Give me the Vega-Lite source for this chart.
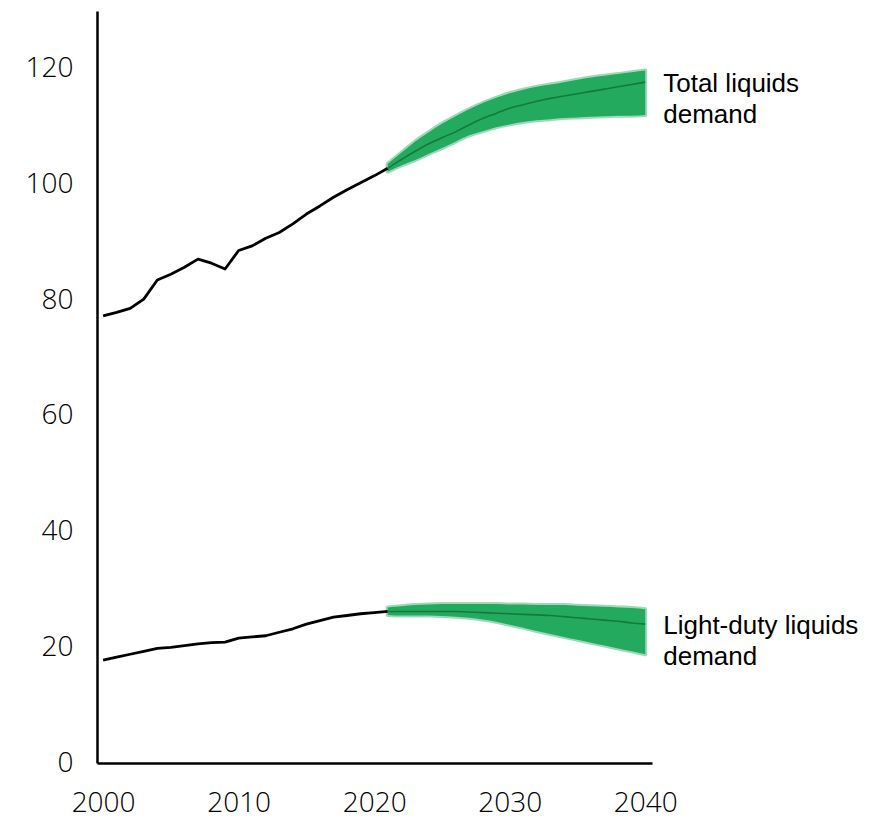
{
  "$schema": "https://vega.github.io/schema/vega-lite/v6.json",
  "width": 555,
  "height": 752,
  "autosize": {"type": "none"},
  "padding": {"left": 97, "top": 11, "right": 223, "bottom": 56},
  "background": "white",
  "config": {"view": {"stroke": null}},
  "datasets": {
    "hist": [
      {"year": 2000, "series": "Total", "value": 77.3},
      {"year": 2001, "series": "Total", "value": 77.9},
      {"year": 2002, "series": "Total", "value": 78.6},
      {"year": 2003, "series": "Total", "value": 80.2},
      {"year": 2004, "series": "Total", "value": 83.5},
      {"year": 2005, "series": "Total", "value": 84.5},
      {"year": 2006, "series": "Total", "value": 85.7},
      {"year": 2007, "series": "Total", "value": 87.1},
      {"year": 2008, "series": "Total", "value": 86.4},
      {"year": 2009, "series": "Total", "value": 85.4},
      {"year": 2010, "series": "Total", "value": 88.6},
      {"year": 2011, "series": "Total", "value": 89.4},
      {"year": 2012, "series": "Total", "value": 90.7},
      {"year": 2013, "series": "Total", "value": 91.7},
      {"year": 2014, "series": "Total", "value": 93.2},
      {"year": 2015, "series": "Total", "value": 94.9},
      {"year": 2016, "series": "Total", "value": 96.3},
      {"year": 2017, "series": "Total", "value": 97.8},
      {"year": 2018, "series": "Total", "value": 99.1},
      {"year": 2019, "series": "Total", "value": 100.3},
      {"year": 2020, "series": "Total", "value": 101.5},
      {"year": 2021, "series": "Total", "value": 102.8},
      {"year": 2000, "series": "Light", "value": 17.8},
      {"year": 2001, "series": "Light", "value": 18.3},
      {"year": 2002, "series": "Light", "value": 18.8},
      {"year": 2003, "series": "Light", "value": 19.3},
      {"year": 2004, "series": "Light", "value": 19.8},
      {"year": 2005, "series": "Light", "value": 20.0},
      {"year": 2006, "series": "Light", "value": 20.3},
      {"year": 2007, "series": "Light", "value": 20.6},
      {"year": 2008, "series": "Light", "value": 20.8},
      {"year": 2009, "series": "Light", "value": 20.9},
      {"year": 2010, "series": "Light", "value": 21.6},
      {"year": 2011, "series": "Light", "value": 21.8},
      {"year": 2012, "series": "Light", "value": 22.0},
      {"year": 2013, "series": "Light", "value": 22.6},
      {"year": 2014, "series": "Light", "value": 23.2},
      {"year": 2015, "series": "Light", "value": 24.0},
      {"year": 2016, "series": "Light", "value": 24.6},
      {"year": 2017, "series": "Light", "value": 25.2},
      {"year": 2018, "series": "Light", "value": 25.5},
      {"year": 2019, "series": "Light", "value": 25.8},
      {"year": 2020, "series": "Light", "value": 26.0},
      {"year": 2021, "series": "Light", "value": 26.2}
    ],
    "proj": [
      {"year": 2021, "series": "Total", "mid": 102.8, "lo": 102.2, "hi": 103.6},
      {"year": 2022, "series": "Total", "mid": 104.3, "lo": 103.3, "hi": 105.5},
      {"year": 2023, "series": "Total", "mid": 105.7, "lo": 104.2, "hi": 107.4},
      {"year": 2024, "series": "Total", "mid": 107.0, "lo": 105.3, "hi": 109.0},
      {"year": 2025, "series": "Total", "mid": 108.1, "lo": 106.3, "hi": 110.5},
      {"year": 2026, "series": "Total", "mid": 109.1, "lo": 107.4, "hi": 111.8},
      {"year": 2027, "series": "Total", "mid": 110.3, "lo": 108.5, "hi": 113.0},
      {"year": 2028, "series": "Total", "mid": 111.4, "lo": 109.2, "hi": 114.1},
      {"year": 2029, "series": "Total", "mid": 112.3, "lo": 109.9, "hi": 115.0},
      {"year": 2030, "series": "Total", "mid": 113.2, "lo": 110.4, "hi": 115.8},
      {"year": 2031, "series": "Total", "mid": 113.8, "lo": 110.8, "hi": 116.4},
      {"year": 2032, "series": "Total", "mid": 114.4, "lo": 111.1, "hi": 116.9},
      {"year": 2033, "series": "Total", "mid": 114.9, "lo": 111.3, "hi": 117.3},
      {"year": 2034, "series": "Total", "mid": 115.3, "lo": 111.5, "hi": 117.7},
      {"year": 2035, "series": "Total", "mid": 115.7, "lo": 111.6, "hi": 118.1},
      {"year": 2036, "series": "Total", "mid": 116.1, "lo": 111.7, "hi": 118.5},
      {"year": 2037, "series": "Total", "mid": 116.5, "lo": 111.8, "hi": 118.8},
      {"year": 2038, "series": "Total", "mid": 116.9, "lo": 111.9, "hi": 119.1},
      {"year": 2039, "series": "Total", "mid": 117.3, "lo": 111.9, "hi": 119.4},
      {"year": 2040, "series": "Total", "mid": 117.7, "lo": 112.0, "hi": 119.7},
      {"year": 2021, "series": "Light", "mid": 26.2, "lo": 25.6, "hi": 26.9},
      {"year": 2022, "series": "Light", "mid": 26.2, "lo": 25.5, "hi": 27.1},
      {"year": 2023, "series": "Light", "mid": 26.2, "lo": 25.5, "hi": 27.3},
      {"year": 2024, "series": "Light", "mid": 26.2, "lo": 25.5, "hi": 27.4},
      {"year": 2025, "series": "Light", "mid": 26.2, "lo": 25.4, "hi": 27.5},
      {"year": 2026, "series": "Light", "mid": 26.2, "lo": 25.3, "hi": 27.5},
      {"year": 2027, "series": "Light", "mid": 26.1, "lo": 25.1, "hi": 27.5},
      {"year": 2028, "series": "Light", "mid": 26.0, "lo": 24.8, "hi": 27.5},
      {"year": 2029, "series": "Light", "mid": 25.9, "lo": 24.4, "hi": 27.5},
      {"year": 2030, "series": "Light", "mid": 25.8, "lo": 23.9, "hi": 27.4},
      {"year": 2031, "series": "Light", "mid": 25.7, "lo": 23.4, "hi": 27.4},
      {"year": 2032, "series": "Light", "mid": 25.6, "lo": 22.8, "hi": 27.3},
      {"year": 2033, "series": "Light", "mid": 25.5, "lo": 22.3, "hi": 27.3},
      {"year": 2034, "series": "Light", "mid": 25.3, "lo": 21.8, "hi": 27.3},
      {"year": 2035, "series": "Light", "mid": 25.1, "lo": 21.3, "hi": 27.2},
      {"year": 2036, "series": "Light", "mid": 24.9, "lo": 20.8, "hi": 27.1},
      {"year": 2037, "series": "Light", "mid": 24.7, "lo": 20.3, "hi": 27.0},
      {"year": 2038, "series": "Light", "mid": 24.5, "lo": 19.8, "hi": 26.9},
      {"year": 2039, "series": "Light", "mid": 24.2, "lo": 19.3, "hi": 26.8},
      {"year": 2040, "series": "Light", "mid": 24.0, "lo": 18.8, "hi": 26.6}
    ],
    "labels": [
      {"year": 2040, "value": 117.7, "label": "Total liquids\ndemand"},
      {"year": 2040, "value": 24.0, "label": "Light-duty liquids\ndemand"}
    ]
  },
  "layer": [
    {
      "data": {"name": "proj"},
      "mark": {"type": "area", "interpolate": "monotone", "fill": "#23aa5f", "stroke": "#23aa5f", "strokeWidth": 4, "strokeOpacity": 0.45, "strokeJoin": "round"},
      "encoding": {
        "x": {
          "field": "year", "type": "quantitative",
          "scale": {"domain": [1999.55, 2040.5], "nice": false, "zero": false},
          "axis": {
            "title": null, "values": [2000, 2010, 2020, 2030, 2040], "format": "d",
            "grid": false, "ticks": false, "labelPadding": 26,
            "labelFont": "Open Sans", "labelFontSize": 28, "labelFontWeight": 300, "labelColor": "#000000",
            "domainColor": "#000000", "domainWidth": 2.5, "labelFlush": false
          }
        },
        "y": {
          "field": "lo", "type": "quantitative",
          "scale": {"domain": [0, 130], "nice": false},
          "axis": {
            "title": null, "values": [0, 20, 40, 60, 80, 100, 120],
            "grid": false, "ticks": false, "labelPadding": 24,
            "labelFont": "Open Sans", "labelFontSize": 28, "labelFontWeight": 300, "labelColor": "#000000",
            "domainColor": "#000000", "domainWidth": 2.5
          }
        },
        "y2": {"field": "hi"},
        "detail": {"field": "series", "type": "nominal"}
      }
    },
    {
      "data": {"name": "hist"},
      "mark": {"type": "line", "color": "#000000", "strokeWidth": 2.8, "strokeJoin": "round"},
      "encoding": {
        "x": {"field": "year", "type": "quantitative"},
        "y": {"field": "value", "type": "quantitative"},
        "detail": {"field": "series", "type": "nominal"}
      }
    },
    {
      "data": {"name": "proj"},
      "mark": {"type": "line", "interpolate": "monotone", "color": "#15793f", "strokeWidth": 1.6},
      "encoding": {
        "x": {"field": "year", "type": "quantitative"},
        "y": {"field": "mid", "type": "quantitative"},
        "detail": {"field": "series", "type": "nominal"}
      }
    },
    {
      "data": {"name": "labels"},
      "mark": {"type": "text", "align": "left", "baseline": "alphabetic", "dx": 18, "dy": 10, "font": "Liberation Sans", "fontSize": 26, "lineHeight": 31, "lineBreak": "\n", "color": "#000000"},
      "encoding": {
        "x": {"field": "year", "type": "quantitative"},
        "y": {"field": "value", "type": "quantitative"},
        "text": {"field": "label", "type": "nominal"}
      }
    }
  ]
}
